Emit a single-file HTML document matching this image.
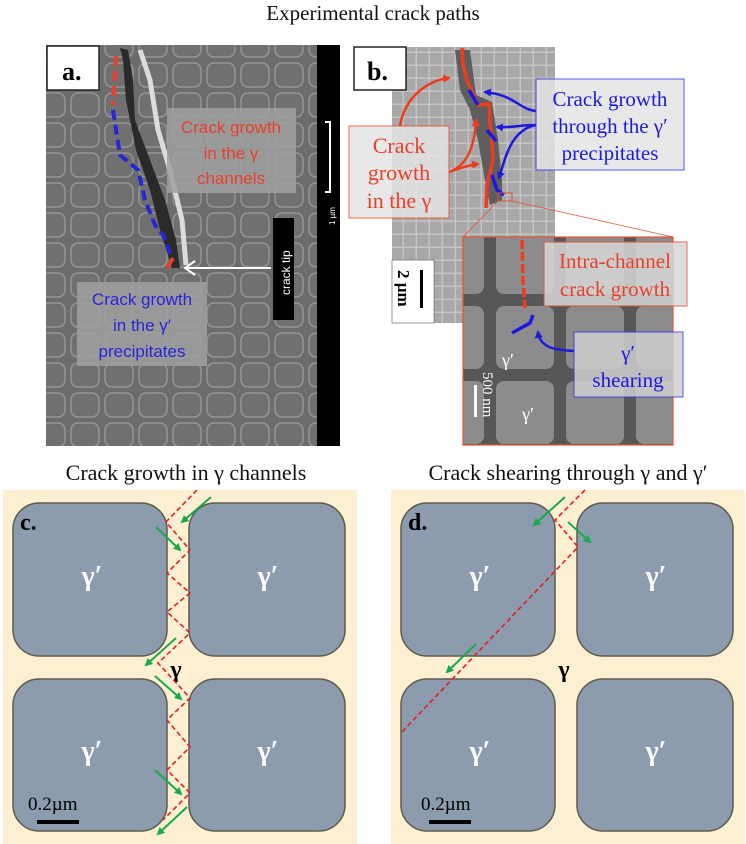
<!DOCTYPE html>
<html><head><meta charset="utf-8"><style>
html,body{margin:0;padding:0;background:#fff;}
svg{display:block;}
.ser{font-family:"Liberation Serif",serif;}
.san{font-family:"Liberation Sans",sans-serif;}
</style></head><body>
<svg width="746" height="844" viewBox="0 0 746 844" xmlns="http://www.w3.org/2000/svg">
<defs>
<pattern id="cellsA" width="34" height="30" patternUnits="userSpaceOnUse">
<rect width="34" height="30" fill="#6c6c6c"/>
<rect x="3" y="3" width="28" height="24" rx="7" fill="#707070" stroke="#949494" stroke-width="1.5"/>
</pattern>
<pattern id="cellsB" width="13" height="13" patternUnits="userSpaceOnUse">
<rect width="13" height="13" fill="#c4c4c4"/>
<rect x="1" y="1" width="11.5" height="11.5" fill="#a8a8a8"/>
</pattern>
<pattern id="cellsC" width="70" height="75" patternUnits="userSpaceOnUse">
<rect width="70" height="75" fill="#4c4c4c"/>
<rect x="6" y="6" width="58" height="63" rx="8" fill="#8e8e8e"/>
</pattern>
<marker id="ga" markerWidth="8" markerHeight="8" refX="6" refY="4" orient="auto" markerUnits="userSpaceOnUse"><path d="M0,0 L8,4 L0,8 z" fill="#1aaa4a"/></marker>
<marker id="ba" markerWidth="8" markerHeight="8" refX="6" refY="4" orient="auto" markerUnits="userSpaceOnUse"><path d="M0,0 L8,4 L0,8 z" fill="#1a1ae0"/></marker>
<marker id="ra" markerWidth="8" markerHeight="8" refX="6" refY="4" orient="auto" markerUnits="userSpaceOnUse"><path d="M0,0 L8,4 L0,8 z" fill="#f03c1e"/></marker>
</defs>

<text x="373" y="20" class="ser" font-size="21" text-anchor="middle" fill="#111">Experimental crack paths</text>

<!-- Panel a -->
<rect x="46" y="45" width="294" height="401" fill="url(#cellsA)"/>
<path d="M120,48 L128,50 L133,80 L135,120 L150,160 L165,200 L176,240 L180,268 L172,268 L160,230 L150,190 L136,150 L126,100 L123,60 Z" fill="#2a2a2a"/>
<path d="M140,50 L150,80 L158,130 L170,170 L182,220 L186,265" stroke="#dcdcdc" stroke-width="5" fill="none"/>
<rect x="317" y="45" width="23" height="401" fill="#000"/>
<path d="M325,122 h5 v70 h-5" stroke="#fff" stroke-width="2" fill="none"/>
<text transform="translate(335,225) rotate(-90)" class="san" font-size="8" fill="#fff">1 µm</text>
<rect x="47" y="46" width="52" height="44" fill="#fff" stroke="#222" stroke-width="1.5"/>
<text x="62" y="80" class="ser" font-size="26" font-weight="bold">a.</text>
<path d="M116,56 L113,105" stroke="#e8402a" stroke-width="4" stroke-dasharray="10,5" fill="none"/>
<path d="M113,110 L120,155 L138,170 L145,200 L155,225 L163,235 L172,258" stroke="#2626d8" stroke-width="4" stroke-dasharray="10,5" fill="none"/>
<path d="M173,258 L167,268" stroke="#e8402a" stroke-width="4" fill="none"/>
<rect x="167" y="108" width="129" height="85" fill="#a0a0a0" opacity="0.85"/>
<text class="san" font-size="17" fill="#e8402a" text-anchor="middle"><tspan x="231" y="133">Crack growth</tspan><tspan x="231" y="159">in the γ</tspan><tspan x="231" y="184">channels</tspan></text>
<rect x="77" y="282" width="130" height="84" fill="#a0a0a0" opacity="0.85"/>
<text class="san" font-size="17" fill="#2626d8" text-anchor="middle"><tspan x="142" y="305">Crack growth</tspan><tspan x="142" y="331">in the γ′</tspan><tspan x="142" y="357">precipitates</tspan></text>
<rect x="273" y="218" width="21" height="102" fill="#000"/>
<text transform="translate(290,295) rotate(-90)" class="san" font-size="12" fill="#fff">crack tip</text>
<path d="M271,268 L186,268 M195,261 L185,268 L195,275" stroke="#fff" stroke-width="2" fill="none"/>

<!-- Panel b -->
<rect x="392" y="47" width="163" height="276" fill="url(#cellsB)"/>
<path d="M455,50 L470,50 L476,95 L492,102 L498,140 L502,180 L502,200 L490,205 L484,175 L478,140 L470,110 L460,90 Z" fill="#5e5e5e"/>
<rect x="392" y="260" width="42" height="63" fill="#fff" stroke="#555" stroke-width="0.6"/>
<rect x="420" y="270" width="3" height="38" fill="#000"/>
<text transform="translate(398,270) rotate(90)" class="ser" font-size="17" font-weight="bold">2 µm</text>
<rect x="354" y="47" width="52" height="43" fill="#fff" stroke="#222" stroke-width="1.5"/>
<text x="367" y="80" class="ser" font-size="26" font-weight="bold">b.</text>
<path d="M462,48 L463,65 L467,80 L478,105 L489,104 L490,125 L492,140 L493,160 L487,185 L486,208" stroke="#f03c1e" stroke-width="3.5" fill="none"/>
<path d="M469,90 L478,105 M487,130 L496,141 M492,175 L497,190 L504,195" stroke="#1a1ae0" stroke-width="3.5" fill="none"/>
<path d="M536,111 C520,110 515,95 485,92" stroke="#1a1ae0" stroke-width="2.5" fill="none" marker-end="url(#ba)"/>
<path d="M536,125 C520,125 510,128 497,127" stroke="#1a1ae0" stroke-width="2.5" fill="none" marker-end="url(#ba)"/>
<path d="M536,125 C510,130 505,160 499,178" stroke="#1a1ae0" stroke-width="2.5" fill="none" marker-end="url(#ba)"/>
<path d="M400,126 C405,95 430,80 449,78" stroke="#f03c1e" stroke-width="2.5" fill="none" marker-end="url(#ra)"/>
<path d="M449,172 C470,165 475,140 476,120" stroke="#f03c1e" stroke-width="2.5" fill="none" marker-end="url(#ra)"/>
<path d="M449,172 C460,168 470,165 478,164" stroke="#f03c1e" stroke-width="2.5" fill="none" marker-end="url(#ra)"/>
<rect x="349" y="126" width="100" height="92" fill="#e4e4e4" opacity="0.85" stroke="#e8503a" stroke-width="1"/>
<text class="ser" font-size="22" fill="#e8402a" text-anchor="middle"><tspan x="399" y="153">Crack</tspan><tspan x="399" y="180">growth</tspan><tspan x="399" y="208">in the γ</tspan></text>
<rect x="536" y="79" width="148" height="91" fill="#e4e4e4" opacity="0.85" stroke="#3a3ae0" stroke-width="1"/>
<text class="ser" font-size="21" fill="#1a1ae0" text-anchor="middle"><tspan x="610" y="106">Crack growth</tspan><tspan x="610" y="133">through the γ′</tspan><tspan x="610" y="160">precipitates</tspan></text>
<rect x="498" y="193" width="14" height="8" fill="none" stroke="#e8503a" stroke-width="1"/>
<path d="M498,201 L463,237 M512,201 L673,237" stroke="#e8503a" stroke-width="0.8"/>
<!-- inset -->
<rect x="463" y="237" width="210" height="208" fill="url(#cellsC)"/>
<rect x="463" y="237" width="210" height="208" fill="#888" opacity="0.2"/>
<rect x="463" y="237" width="210" height="208" fill="none" stroke="#e8503a" stroke-width="1.2"/>
<path d="M522,240 L523,280 L525,308" stroke="#f03c1e" stroke-width="3.5" stroke-dasharray="9,3" fill="none"/>
<path d="M512,333 L530,323 L533,315" stroke="#1a1ae0" stroke-width="3.5" fill="none"/>
<path d="M574,351 C555,350 540,348 538,332" stroke="#1a1ae0" stroke-width="2.5" fill="none" marker-end="url(#ba)"/>
<rect x="544" y="242" width="143" height="64" fill="#d8d8d8" opacity="0.85" stroke="#e8503a" stroke-width="1"/>
<text class="ser" font-size="21" fill="#e8402a" text-anchor="middle"><tspan x="615" y="268">Intra-channel</tspan><tspan x="615" y="296">crack growth</tspan></text>
<rect x="574" y="332" width="109" height="65" fill="#cfcfcf" opacity="0.85" stroke="#3a3ae0" stroke-width="1"/>
<text class="ser" font-size="21" fill="#1a1ae0" text-anchor="middle"><tspan x="628" y="360">γ′</tspan><tspan x="628" y="387">shearing</tspan></text>
<text x="502" y="366" class="ser" font-size="18" fill="#fff">γ′</text>
<text x="522" y="420" class="ser" font-size="18" fill="#fff">γ′</text>
<rect x="474" y="385" width="3" height="32" fill="#fff"/>
<text transform="translate(483,372) rotate(90)" class="ser" font-size="15" fill="#fff">500 nm</text>

<!-- bottom titles -->
<text x="186" y="480" class="ser" font-size="22" text-anchor="middle" fill="#111">Crack growth in γ channels</text>
<text x="568" y="480" class="ser" font-size="22" text-anchor="middle" fill="#111">Crack shearing through γ and γ′</text>

<!-- Panel c -->
<g>
<rect x="3" y="490" width="354" height="354" fill="#fdf0d2"/>
<g fill="#8c9cae" stroke="#5d5c4c" stroke-width="1.5">
<rect x="13" y="503" width="154" height="153" rx="26"/>
<rect x="189" y="503" width="156" height="153" rx="26"/>
<rect x="13" y="679" width="154" height="152" rx="26"/>
<rect x="189" y="679" width="156" height="152" rx="26"/>
</g>
<g class="ser" font-size="28" font-weight="bold" fill="#fff" text-anchor="middle">
<text x="92" y="585">γ′</text><text x="268" y="585">γ′</text>
<text x="92" y="760">γ′</text><text x="268" y="760">γ′</text>
</g>
<text x="20" y="530" class="ser" font-size="24" font-weight="bold">c.</text>
<text x="176" y="677" class="ser" font-size="24" font-weight="bold" text-anchor="middle">γ</text>
<path d="M197,490 L166,522 L190,550 L167,573 L190,593 L167,612 L190,633 L158,663 L190,698 L167,720 L190,747 L167,770 L190,793 L163,820" stroke="#e02020" stroke-width="1.6" stroke-dasharray="5,3" fill="none"/>
<g stroke="#1aaa4a" stroke-width="2" fill="none" marker-end="url(#ga)">
<path d="M211,497 L182,522"/><path d="M156,527 L180,550"/>
<path d="M176,638 L146,665"/><path d="M155,676 L181,699"/>
<path d="M155,770 L181,794"/><path d="M187,807 L158,834"/>
</g>
<text x="28" y="810" class="ser" font-size="19">0.2µm</text>
<rect x="37" y="820" width="42" height="4" fill="#000"/>
</g>

<!-- Panel d -->
<g>
<rect x="391" y="490" width="354" height="354" fill="#fdf0d2"/>
<g fill="#8c9cae" stroke="#5d5c4c" stroke-width="1.5">
<rect x="401" y="503" width="154" height="153" rx="26"/>
<rect x="577" y="503" width="156" height="153" rx="26"/>
<rect x="401" y="679" width="154" height="152" rx="26"/>
<rect x="577" y="679" width="156" height="152" rx="26"/>
</g>
<g class="ser" font-size="28" font-weight="bold" fill="#fff" text-anchor="middle">
<text x="480" y="585">γ′</text><text x="656" y="585">γ′</text>
<text x="480" y="760">γ′</text><text x="656" y="760">γ′</text>
</g>
<text x="408" y="530" class="ser" font-size="24" font-weight="bold">d.</text>
<text x="564" y="677" class="ser" font-size="24" font-weight="bold" text-anchor="middle">γ</text>
<path d="M585,490 L555,520 L578,547 L401,733" stroke="#e02020" stroke-width="1.6" stroke-dasharray="5,3" fill="none"/>
<g stroke="#1aaa4a" stroke-width="2" fill="none" marker-end="url(#ga)">
<path d="M565,497 L534,525"/><path d="M568,522 L590,542"/>
<path d="M476,644 L447,672"/>
</g>
<text x="421" y="810" class="ser" font-size="19">0.2µm</text>
<rect x="429" y="820" width="42" height="4" fill="#000"/>
</g>
</svg>
</body></html>
